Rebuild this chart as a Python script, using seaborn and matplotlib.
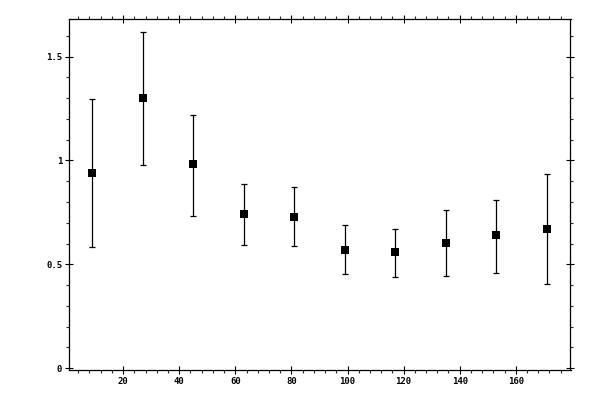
#!/usr/bin/env python3
"""Binned means with asymmetric error bars."""
import numpy as np
import pandas as pd
import matplotlib
matplotlib.use('Agg')
import matplotlib.pyplot as plt
from matplotlib.ticker import MultipleLocator
import seaborn as sns

# bin centres and values
bin_centre = [9, 27, 45, 63, 81, 99, 117, 135, 153, 171]
mean_val = [0.938, 1.300, 0.981, 0.740, 0.730, 0.571, 0.557, 0.605, 0.639, 0.672]
lower_val = [0.581, 0.976, 0.735, 0.595, 0.586, 0.455, 0.441, 0.446, 0.460, 0.407]
upper_val = [1.298, 1.618, 1.221, 0.885, 0.870, 0.687, 0.668, 0.764, 0.812, 0.933]

df = pd.DataFrame({'x': bin_centre, 'y': mean_val,
                   'lo': lower_val, 'hi': upper_val})

sns.set_style('ticks')
plt.rcParams['font.family'] = ['DejaVu Sans Mono', 'DejaVu Sans']

fig = plt.figure(figsize=(6, 4), dpi=100)
ax = fig.add_axes([69.3 / 600, 1 - 369.8 / 400, (570.5 - 69.3) / 600, (369.8 - 19.3) / 400])

yerr = np.array([df['y'] - df['lo'], df['hi'] - df['y']])
ax.errorbar(df['x'], df['y'], yerr=yerr, fmt='none', ecolor='black',
            elinewidth=0.9, capsize=2.4, capthick=0.9, zorder=2)
sns.scatterplot(data=df, x='x', y='y', marker='s', s=40, color='black',
                edgecolor='black', linewidth=0, ax=ax, zorder=3)

ax.set_xlim(0.8, 179.5)
ax.set_ylim(-0.008, 1.68)
ax.xaxis.set_major_locator(MultipleLocator(20))
ax.xaxis.set_minor_locator(MultipleLocator(4))
ax.yaxis.set_major_locator(MultipleLocator(0.5))
ax.yaxis.set_minor_locator(MultipleLocator(0.1))
ax.yaxis.set_major_formatter(plt.FuncFormatter(lambda v, p: f'{v:g}'))

ax.set_xlabel('')
ax.set_ylabel('')
for sp in ax.spines.values():
    sp.set_visible(True)
    sp.set_linewidth(0.9)
    sp.set_color('black')

ax.tick_params(which='major', direction='inout', length=6.2, width=0.8,
               top=True, right=True, labelsize=6.5, pad=2, colors='black')
ax.tick_params(which='minor', direction='out', length=2.4, width=0.8,
               top=True, right=True)
for lab in ax.get_xticklabels() + ax.get_yticklabels():
    lab.set_fontweight('bold')

fig.savefig('out.png', dpi=100)
plt.close(fig)
